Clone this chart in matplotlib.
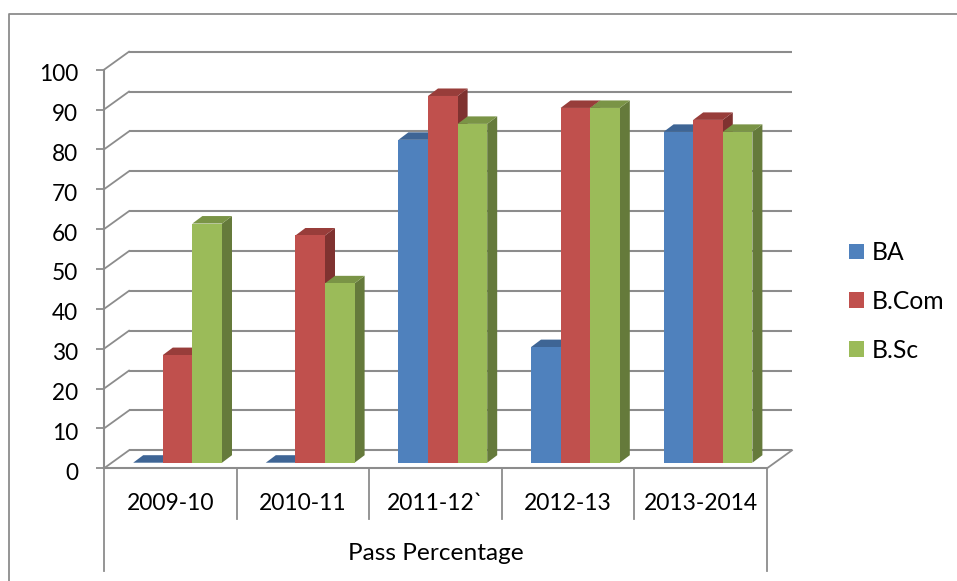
import matplotlib
matplotlib.use("Agg")
import matplotlib.pyplot as plt
from matplotlib.lines import Line2D
from matplotlib.patches import Polygon
from matplotlib.transforms import ScaledTranslation

plt.rcParams['font.family'] = ['Lato', 'DejaVu Sans']

# data
years = ["2009-10", "2010-11", "2011-12`", "2012-13", "2013-2014"]
ba = [0, 0, 81, 29, 83]
bcom = [27, 57, 92, 89, 86]
bsc = [60, 45, 85, 89, 83]
series_names = ["BA", "B.Com", "B.Sc"]
y_ticks = [0, 10, 20, 30, 40, 50, 60, 70, 80, 90, 100]
group_title = "Pass Percentage"

# front, top, side colours
front_colors = ["#4F81BD", "#C0504D", "#9BBB59"]
top_colors = ["#3E6595", "#983D3A", "#7A9446"]
side_colors = ["#2F4B71", "#7F3230", "#657A3B"]
line_color = "#8C8C8C"

W, H = 957, 581
px_left, px_right, px_y0, px_y100 = 104, 767, 468.3, 69.7
px_x = (px_right - px_left) / len(years)
px_y = (px_y0 - px_y100) / 100

fig = plt.figure(figsize=(W / 100, H / 100), dpi=100)
ax = fig.add_axes([px_left / W, 1 - px_y0 / H, (px_right - px_left) / W, (px_y0 - px_y100) / H])
ax.set_xlim(-0.5, len(years) - 0.5)
ax.set_ylim(0, 100)
ax.patch.set_visible(False)

# 3d offsets, in data units
wall_dx, wall_dy = 25 / px_x, 18 / px_y
shift_dx, shift_dy = 7.3 / px_x, 5.6 / px_y
depth_dx, depth_dy = 10 / px_x, 7.5 / px_y
bar_w = 29.6 / px_x

# back wall grid and side wall lines
for v in y_ticks:
    ax.plot([-0.5 + wall_dx, len(years) - 0.5 + wall_dx], [v + wall_dy] * 2,
            color=line_color, lw=1.5, clip_on=False, zorder=1, solid_capstyle="butt")
    ax.plot([-0.5, -0.5 + wall_dx], [v, v + wall_dy],
            color=line_color, lw=1.3, clip_on=False, zorder=1)
ax.plot([len(years) - 0.5, len(years) - 0.5 + wall_dx], [0, wall_dy],
        color=line_color, lw=1.3, clip_on=False, zorder=1)

# bars
all_series = [ba, bcom, bsc]
z = 3
for i in range(len(years)):
    for j, vals in enumerate(all_series):
        x = i + (j - 1) * bar_w + shift_dx
        top = vals[i] + shift_dy
        l, r = x - bar_w / 2, x + bar_w / 2
        ax.add_patch(Polygon([(r, shift_dy), (r + depth_dx, shift_dy + depth_dy),
                              (r + depth_dx, top + depth_dy), (r, top)],
                             fc=side_colors[j], ec="none", clip_on=False, zorder=z))
        ax.add_patch(Polygon([(l, top), (l + depth_dx, top + depth_dy),
                              (r + depth_dx, top + depth_dy), (r, top)],
                             fc=top_colors[j], ec="none", clip_on=False, zorder=z))
        ax.bar(x, vals[i], bar_w, bottom=shift_dy, color=front_colors[j],
               clip_on=False, zorder=z + 0.5,
               label=series_names[j] if i == 0 else None)
        z += 1

# axes
for s in ["top", "right"]:
    ax.spines[s].set_visible(False)
for s in ["left", "bottom"]:
    ax.spines[s].set_color(line_color)
    ax.spines[s].set_linewidth(1.5)
    ax.spines[s].set_zorder(50)

ax.set_yticks(y_ticks)
ax.tick_params(axis="y", length=6, width=1.3, color=line_color, labelsize=16.3, pad=12.5)
# labels sit a little under their ticks in the original
down = ScaledTranslation(0, -3 / 100, fig.dpi_scale_trans)
for lab in ax.get_yticklabels():
    lab.set_transform(lab.get_transform() + down)
ax.set_xticks(range(len(years)))
ax.set_xticklabels(years)
ax.tick_params(axis="x", length=0, labelsize=16.5, pad=18)

# multi-level category separators
for i in range(1, len(years)):
    ax.plot([i - 0.5, i - 0.5], [0, -12.7], color=line_color, lw=1.3, clip_on=False)
for xb in [-0.5, len(years) - 0.5]:
    ax.plot([xb, xb], [0, -25.8], color=line_color, lw=1.3, clip_on=False)
ax.text((len(years) - 1) / 2, -21.5, group_title, fontsize=17.6, ha="center", va="center")

ax.legend(loc="center left", bbox_to_anchor=(849 / W, 1 - 301.5 / H),
          bbox_transform=fig.transFigure, frameon=False, fontsize=17.7,
          handlelength=0.61, handleheight=0.61, handletextpad=0.33,
          labelspacing=1.05, borderpad=0, borderaxespad=0)

# outer chart border, only top and left are in the picture
fig.add_artist(Line2D([9 / W, 9 / W, 1], [0, 1 - 13.7 / H, 1 - 13.7 / H], color=line_color, lw=1.3))

fig.savefig("out.png", dpi=100)
